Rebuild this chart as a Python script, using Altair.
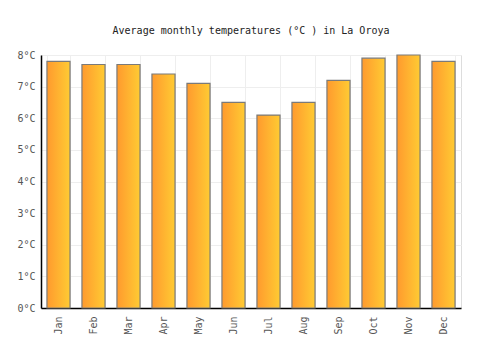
import altair as alt
import pandas as pd

months = ["Jan", "Feb", "Mar", "Apr", "May", "Jun", "Jul", "Aug", "Sep", "Oct", "Nov", "Dec"]
temps = [7.8, 7.7, 7.7, 7.4, 7.1, 6.5, 6.1, 6.5, 7.2, 7.9, 8.0, 7.8]

df = pd.DataFrame({"month": months, "temp": temps})

FONT = "DejaVu Sans Mono"

chart = alt.Chart(df).mark_bar(
    color=alt.Gradient(
        gradient="linear",
        x1=0, x2=1, y1=0, y2=0,
        stops=[alt.GradientStop(offset=0, color="#FF9A2E"),
               alt.GradientStop(offset=1, color="#FFCB33")],
    ),
    stroke="#7a7a7a",
    strokeWidth=1.2,
).encode(
    x=alt.X("month:N", sort=months, title=None,
            scale=alt.Scale(paddingInner=0.34, paddingOuter=0.17),
            axis=alt.Axis(grid=True, tickBand="extent", ticks=False, labelAngle=-90,
                          labelPadding=8, labelFont=FONT, labelFontSize=10,
                          labelColor="#555555", domainColor="#000000", domainWidth=1.5,
                          gridColor="#eeeeee", labelBaseline="middle", labelAlign="right")),
    y=alt.Y("temp:Q", title=None,
            scale=alt.Scale(domain=[0, 8], nice=False),
            axis=alt.Axis(values=list(range(0, 9)), labelExpr="datum.value + '°C'",
                          ticks=False, labelPadding=6, labelFont=FONT, labelFontSize=10,
                          labelColor="#555555", domainColor="#000000", domainWidth=1.5,
                          gridColor="#eeeeee")),
).properties(
    width=420,
    height=253,
    title=alt.TitleParams("Average monthly temperatures (°C ) in La Oroya",
                          font=FONT, fontSize=10, fontWeight="normal", color="#222222",
                          anchor="middle", offset=14),
    autosize=alt.AutoSizeParams(type="none"),
    padding={"left": 41, "top": 55, "right": 39, "bottom": 42},
).configure_view(stroke=None).configure(background="#ffffff")

chart.save("out.html", embed_options={"renderer": "svg", "actions": False})
